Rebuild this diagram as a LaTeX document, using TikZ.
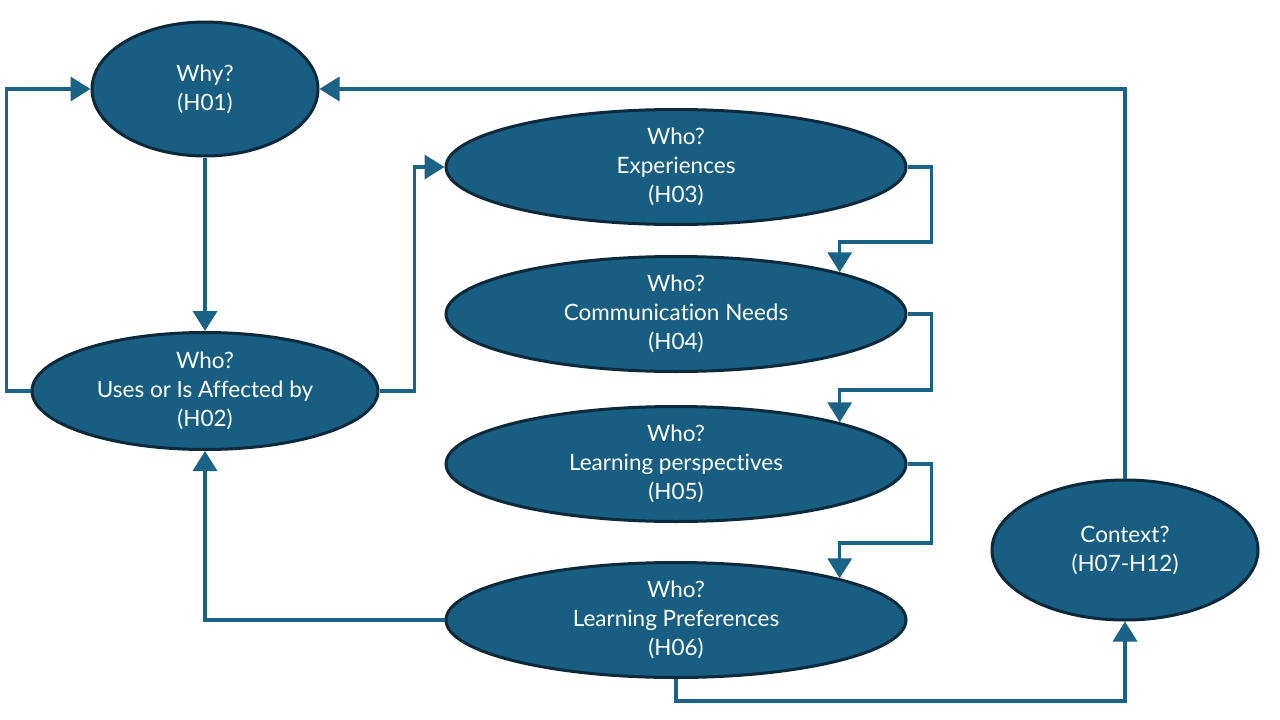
\documentclass[tikz,border=0pt]{standalone}
\usepackage{fontspec}
\setmainfont{Lato}[Ligatures=NoCommon]
\usetikzlibrary{shapes.geometric,arrows.meta}
\definecolor{nodefill}{HTML}{175E82}
\definecolor{nodeborder}{HTML}{0C2A3B}
\definecolor{linkcol}{HTML}{1A6286}
\begin{document}
\begin{tikzpicture}[x=1pt,y=-1pt,
  qnode/.style={ellipse, draw=nodeborder, line width=3pt, fill=nodefill, text=white,
    inner sep=0pt, align=center, font=\fontsize{22.5}{29}\selectfont},
  link/.style={draw=linkcol, line width=3.5pt, line join=miter,
    -{Triangle[length=20pt,width=24pt]}}]
\fill[white] (0,0) rectangle (1280,720);
\useasboundingbox (0,0) rectangle (1280,720);

\node[qnode, minimum width=226pt, minimum height=134pt] (h01) at (205,89) {Why?\\(H01)};
\node[qnode, minimum width=346pt, minimum height=117pt] (h02) at (205,391) {Who?\\Uses or Is Affected by\\(H02)};
\node[qnode, minimum width=460pt, minimum height=115pt] (h03) at (676,167) {Who?\\Experiences\\(H03)};
\node[qnode, minimum width=460pt, minimum height=115pt] (h04) at (676,314) {Who?\\Communication Needs\\(H04)};
\node[qnode, minimum width=460pt, minimum height=115pt] (h05) at (676,464) {Who?\\Learning perspectives\\(H05)};
\node[qnode, minimum width=460pt, minimum height=115pt] (h06) at (676,620) {Who?\\Learning Preferences\\(H06)};
\node[qnode, minimum width=266pt, minimum height=140pt] (ctx) at (1125,550) {Context?\\(H07-H12)};

\draw[link] (h01.south) -- (h02.north);
\draw[link] (h02.west) -- ++(-24,0) |- (h01.west);
\draw[link] (h02.east) -- ++(35,0) |- (h03.west);
\draw[link] (h03.east) -| ++(24,75) -| (h04.north east);
\draw[link] (h04.east) -| ++(24,76) -| (h05.north east);
\draw[link] (h05.east) -| ++(24,79) -| (h06.north east);
\draw[link] (h06.west) -| (h02.south);
\draw[link] (h06.south) -- ++(0,22) -| (ctx.south);
\draw[link] (ctx.north) |- (h01.east);
\end{tikzpicture}
\end{document}
